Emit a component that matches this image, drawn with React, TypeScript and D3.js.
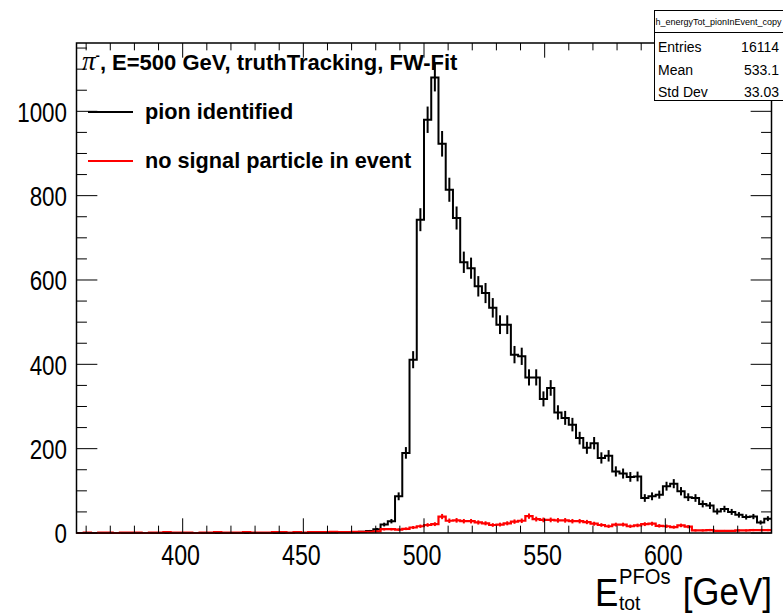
import React from 'react';
import * as d3 from 'd3';

// 3 GeV bins from 356 to 644 GeV
const binLow = 356;
const binWidth = 3;

const pionIdentified = [
  0, 0, 0, 0, 0, 0, 0, 0, 0, 0,
  0, 0, 0, 0, 0, 0, 0, 0, 0, 0,
  0, 0, 0, 0, 0, 0, 0, 0, 0, 0,
  1, 0, 1, 1, 1, 1, 2, 2, 2, 3,
  5, 9, 20, 28, 87, 190, 411, 743, 980, 1080,
  923, 814, 747, 642, 628, 585, 569, 534, 494, 494,
  423, 419, 369, 369, 318, 344, 286, 273, 257, 225,
  202, 213, 178, 183, 146, 141, 133, 134, 83, 87,
  91, 111, 117, 99, 85, 83, 69, 65, 51, 57,
  50, 43, 38, 39, 25, 34,
];

const noSignalParticle = [
  0, 1, 0, 1, 1, 0, 1, 1, 1, 0,
  1, 1, 2, 1, 1, 1, 0, 1, 1, 2,
  1, 1, 1, 2, 1, 1, 1, 2, 2, 1,
  2, 1, 2, 2, 2, 3, 2, 2, 3, 3,
  3, 4, 9, 9, 8, 10, 13, 16, 19, 21,
  39, 29, 30, 28, 28, 25, 23, 19, 20, 23,
  27, 29, 40, 33, 31, 31, 30, 30, 28, 28,
  26, 22, 19, 16, 20, 20, 16, 18, 21, 22,
  17, 16, 14, 18, 15, 6, 6, 7, 5, 5,
  5, 6, 6, 7, 7, 7,
];

const xMajorTicks = [400, 450, 500, 550, 600];
const yMajorTicks = [0, 200, 400, 600, 800, 1000];

const statNames = ['Entries', 'Mean', 'Std Dev'];
const statValues = ['16114', '533.1', '33.03'];

const legendLabels = ['pion identified', 'no signal particle in event'];
const legendColors = ['#000000', '#ff0000'];

const W = 783;
const H = 613;
const left = 76.5, right = 771.5, top = 43, bottom = 533;
const sans = '"Liberation Sans", Arial, Helvetica, sans-serif';
const squeeze = 0.8; // tick labels look narrower than Arial

const App = () => {
  const x = d3.scaleLinear().domain([356, 644]).range([left, right]);
  const y = d3.scaleLinear().domain([0, 1162]).range([bottom, top]);

  const stepPath = (vals: number[]) => {
    const pts: [number, number][] = [];
    vals.forEach((v, i) => {
      const lo = binLow + i * binWidth;
      pts.push([x(lo), y(v)]);
      pts.push([x(lo + binWidth), y(v)]);
    });
    return d3.line()(pts) as string;
  };

  const errorBars = (vals: number[], color: string) =>
    vals.map((v, i) => {
      if (v <= 0) return null;
      const c = x(binLow + (i + 0.5) * binWidth);
      const e = Math.sqrt(v);
      return (
        <line key={i} x1={c} x2={c} y1={y(v - e)} y2={y(Math.min(v + e, 1162))}
          stroke={color} strokeWidth={2} />
      );
    });

  const xMinor = d3.range(360, 641, 10);
  const yMinor = d3.range(0, 1162, 50);
  const xMajLen = 0.03 * (bottom - top);
  const yMajLen = 0.03 * (right - left);

  return (
    <svg width={W} height={H} style={{ position: 'absolute', left: 0, top: 0, background: '#fff' }}
      fontFamily={sans}>
      <rect x={0} y={0} width={W} height={H} fill="#fff" />

      {/* histograms */}
      <path d={stepPath(pionIdentified)} fill="none" stroke="#000" strokeWidth={2} />
      {errorBars(pionIdentified, '#000')}
      <path d={stepPath(noSignalParticle)} fill="none" stroke="#ff0000" strokeWidth={2.2} />
      {errorBars(noSignalParticle, '#ff0000')}

      {/* frame */}
      <rect x={left} y={top} width={right - left} height={bottom - top} fill="none" stroke="#000" strokeWidth={1.5} />

      {/* x ticks, bottom and top */}
      {xMinor.map(t => {
        const len = t % 50 === 0 ? xMajLen : xMajLen / 2;
        return (
          <g key={'xt' + t}>
            <line x1={x(t)} x2={x(t)} y1={bottom} y2={bottom - len} stroke="#000" strokeWidth={1} />
            <line x1={x(t)} x2={x(t)} y1={top} y2={top + len} stroke="#000" strokeWidth={1} />
          </g>
        );
      })}
      {/* y ticks, left and right */}
      {yMinor.map(t => {
        const len = t % 200 === 0 ? yMajLen : yMajLen / 2;
        return (
          <g key={'yt' + t}>
            <line x1={left} x2={left + len} y1={y(t)} y2={y(t)} stroke="#000" strokeWidth={1} />
            <line x1={right} x2={right - len} y1={y(t)} y2={y(t)} stroke="#000" strokeWidth={1} />
          </g>
        );
      })}

      {xMajorTicks.map(t => (
        <text key={'xl' + t} transform={`translate(${x(t) - 2},565) scale(${squeeze},1)`}
          textAnchor="middle" fontSize={29}>{t}</text>
      ))}
      {yMajorTicks.map(t => (
        <text key={'yl' + t} transform={`translate(67,${y(t) + 10.4}) scale(${squeeze},1)`}
          textAnchor="end" fontSize={28}>{t}</text>
      ))}

      {/* axis title */}
      <text transform="translate(595,606) scale(0.92,1)" fontSize={38}>E</text>
      <text transform="translate(619,584) scale(0.92,1)" fontSize={22}>PFOs</text>
      <text transform="translate(619,610) scale(0.92,1)" fontSize={21}>tot</text>
      <text transform="translate(772,605) scale(0.92,1)" fontSize={38} textAnchor="end">[GeV]</text>

      {/* title */}
      <text x={82} y={70} fontSize={22} fontWeight="bold">
        <tspan fontFamily='"Liberation Serif", "DejaVu Serif", serif' fontWeight="normal" fontSize={27} fontStyle="italic">π</tspan>
        <tspan fontSize={13} dy={-10}>-</tspan>
        <tspan dy={10}>, E=500 GeV, truthTracking, FW-Fit</tspan>
      </text>

      {/* legend */}
      {legendLabels.map((l, i) => (
        <g key={l}>
          <line x1={88} x2={133} y1={112 + i * 49} y2={112 + i * 49} stroke={legendColors[i]} strokeWidth={2} />
          <text x={145} y={119 + i * 49} fontSize={21.7} fontWeight="bold">{l}</text>
        </g>
      ))}

      {/* stats box */}
      <rect x={654.5} y={10.5} width={140} height={90} fill="#fff" stroke="#000" strokeWidth={1} />
      <line x1={654.5} x2={783} y1={32.5} y2={32.5} stroke="#000" strokeWidth={1} />
      <text x={655.5} y={25} fontSize={9}>h_energyTot_pionInEvent_copy</text>
      {statNames.map((n, i) => (
        <g key={n}>
          <text x={658} y={52 + i * 22.5} fontSize={14}>{n}</text>
          <text x={779} y={52 + i * 22.5} fontSize={14} textAnchor="end">{statValues[i]}</text>
        </g>
      ))}
    </svg>
  );
};

export default App;
